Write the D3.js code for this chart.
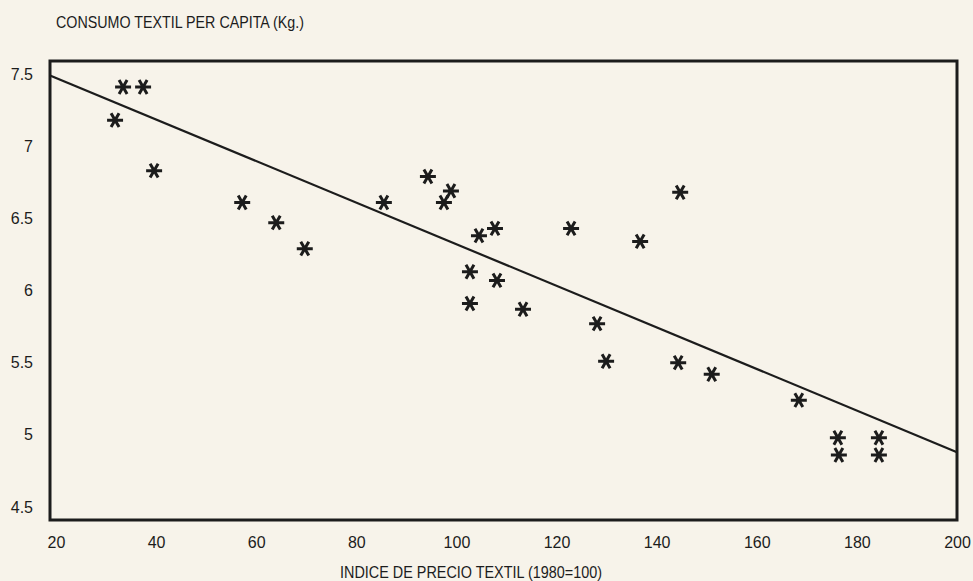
<!DOCTYPE html>
<html>
<head>
<meta charset="utf-8">
<script src="https://cdn.jsdelivr.net/npm/d3@7"></script>
<style>
body{margin:0;background:#f7f3ea;}
svg{display:block;}
text{font-family:"Liberation Sans Narrow","Liberation Sans",Arial,sans-serif;fill:#1c1c1c;}
.tick text{font-size:16px;}
.ttl{font-size:17px;}
</style>
</head>
<body>
<script>
// precio textil (1980=100) vs consumo per capita (kg)
var precio=[31.8,33.4,37.4,39.6,57.2,64.0,69.7,85.5,94.3,98.9,97.5,104.5,107.7,102.7,108.1,102.7,113.3,122.9,136.7,144.7,128.1,129.9,144.3,151.0,168.4,176.2,176.4,184.4,184.4];
var consumo=[7.18,7.41,7.41,6.83,6.61,6.47,6.29,6.61,6.79,6.69,6.61,6.38,6.43,6.13,6.07,5.91,5.87,6.43,6.34,6.68,5.77,5.51,5.50,5.42,5.24,4.98,4.86,4.98,4.86];
var trendX=[18.8,200];
var trendY=[7.49,4.88];
var xTicks=[20,40,60,80,100,120,140,160,180,200];
var yTicks=[4.5,5,5.5,6,6.5,7,7.5];

var width=973,height=581;
var frameL=50,frameR=957,frameT=61,frameB=520;

var svg=d3.select("body").append("svg").attr("width",width).attr("height",height);

var x=d3.scaleLinear().domain([20,200]).range([56,957]);
var y=d3.scaleLinear().domain([4.5,7.5]).range([507,74]);

svg.append("text").attr("class","ttl").attr("x",56).attr("y",28)
	.attr("textLength",248).attr("lengthAdjust","spacingAndGlyphs")
	.text("CONSUMO TEXTIL PER CAPITA (Kg.)");
svg.append("text").attr("class","ttl").attr("x",340).attr("y",578)
	.attr("textLength",262).attr("lengthAdjust","spacingAndGlyphs")
	.text("INDICE DE PRECIO TEXTIL (1980=100)");

var yAxis=svg.append("g").attr("transform","translate(33,0)")
	.call(d3.axisLeft(y).tickValues(yTicks).tickSize(0).tickPadding(0).tickFormat(d3.format("")));
yAxis.select(".domain").remove();

var xAxis=svg.append("g").attr("transform","translate(0,534)")
	.call(d3.axisBottom(x).tickValues(xTicks).tickSize(0).tickPadding(0));
xAxis.select(".domain").remove();
xAxis.selectAll("text").attr("dy","0.9em");

svg.append("rect").attr("x",frameL).attr("y",frameT).attr("width",frameR-frameL).attr("height",frameB-frameT)
	.attr("fill","none").attr("stroke","#1c1c1c").attr("stroke-width",3);

svg.append("line")
	.attr("x1",x(trendX[0])).attr("y1",y(trendY[0]))
	.attr("x2",x(trendX[1])).attr("y2",y(trendY[1]))
	.attr("stroke","#1c1c1c").attr("stroke-width",2.2);

var star=d3.symbol().type(d3.symbolAsterisk).size(180);
svg.selectAll(".pt").data(precio).enter().append("path")
	.attr("class","pt")
	.attr("d",star)
	.attr("transform",function(d,i){return "translate("+x(d)+","+y(consumo[i])+") rotate(90)";})
	.attr("fill","none").attr("stroke","#1c1c1c").attr("stroke-width",3);
</script>
</body>
</html>
